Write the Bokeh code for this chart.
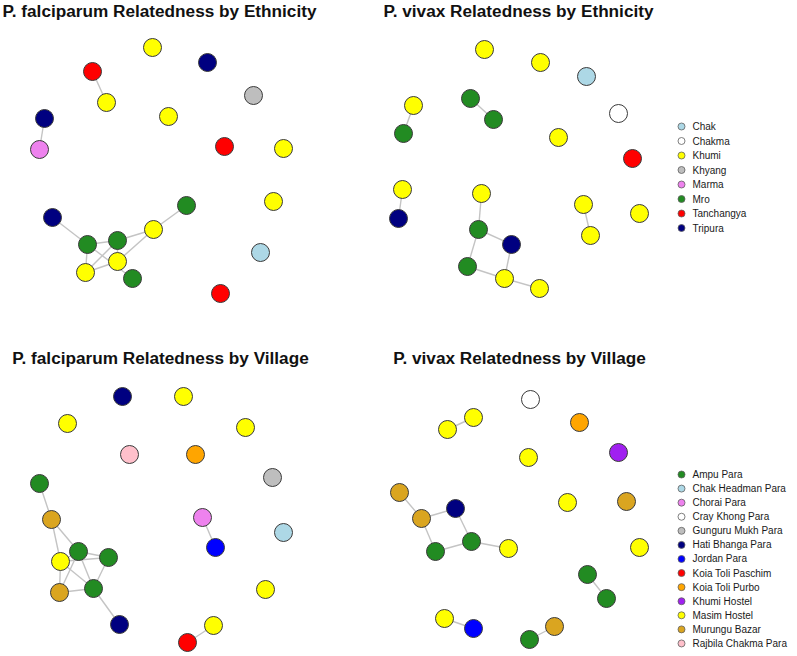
from bokeh.plotting import figure
from bokeh.models import Range1d, ColumnDataSource
from bokeh.layouts import column, row
from bokeh.embed import file_html
from bokeh.resources import INLINE
from bokeh.core.properties import value

# ---------------- categories & colours ----------------
ethnicities = ["Chak", "Chakma", "Khumi", "Khyang", "Marma", "Mro", "Tanchangya", "Tripura"]
ethnicity_colors = ["#ADD8E6", "#FFFFFF", "#FFFF00", "#BEBEBE", "#EE82EE", "#228B22", "#FF0000", "#000080"]

villages = ["Ampu Para", "Chak Headman Para", "Chorai Para", "Cray Khong Para", "Gunguru Mukh Para",
            "Hati Bhanga Para", "Jordan Para", "Koia Toli Paschim", "Koia Toli Purbo", "Khumi Hostel",
            "Masim Hostel", "Murungu Bazar", "Rajbila Chakma Para"]
village_colors = ["#228B22", "#ADD8E6", "#EE82EE", "#FFFFFF", "#BEBEBE", "#000080", "#0000FF",
                  "#FF0000", "#FFA500", "#A020F0", "#FFFF00", "#DAA520", "#FFC0CB"]

titles = ["P. falciparum Relatedness by Ethnicity", "P. vivax Relatedness by Ethnicity",
          "P. falciparum Relatedness by Village", "P. vivax Relatedness by Village"]

# ---------------- P. falciparum by ethnicity (layout coords) ----------------
pf_eth_x = [152, 207, 92, 253, 106, 168, 44, 39, 224, 283, 186, 273, 52, 153, 117, 87, 260, 117, 85, 132, 220]
pf_eth_y = [47, 62, 71, 95, 102, 116, 118, 149, 146, 148, 205, 201, 217, 229, 240, 244, 252, 261, 272, 278, 293]
pf_eth_group = ["Khumi", "Tripura", "Tanchangya", "Khyang", "Khumi", "Khumi", "Tripura", "Marma",
                "Tanchangya", "Khumi", "Mro", "Khumi", "Tripura", "Khumi", "Mro", "Mro", "Chak",
                "Khumi", "Khumi", "Mro", "Tanchangya"]
pf_eth_edges = [(2, 4), (6, 7), (12, 15), (15, 14), (14, 13), (13, 10), (13, 17), (14, 18),
                (15, 18), (18, 17), (14, 17), (15, 19)]

# ---------------- P. vivax by ethnicity ----------------
pv_eth_x = [154, 210, 256, 140, 83, 288, 163, 73, 228, 302, 72, 151, 253, 309, 68, 148, 260, 181, 137, 174, 209]
pv_eth_y = [49, 62, 76, 98, 105, 113, 119, 133, 137, 158, 189, 193, 204, 213, 218, 229, 235, 244, 266, 278, 288]
pv_eth_group = ["Khumi", "Khumi", "Chak", "Mro", "Khumi", "Chakma", "Mro", "Mro", "Khumi", "Tanchangya",
                "Khumi", "Khumi", "Khumi", "Khumi", "Tripura", "Mro", "Khumi", "Tripura", "Mro",
                "Khumi", "Khumi"]
pv_eth_edges = [(4, 7), (3, 6), (10, 14), (11, 15), (15, 17), (15, 18), (17, 19), (18, 19), (19, 20), (12, 16)]

# ---------------- P. falciparum by village ----------------
pf_vil_x = [122, 183, 67, 245, 129, 195, 272, 39, 51, 202, 283, 215, 78, 108, 60, 59, 93, 265, 119, 213, 187]
pf_vil_y = [68, 68, 95, 99, 126, 126, 149, 155, 191, 189, 204, 219, 223, 229, 233, 264, 260, 261, 296, 297, 314]
pf_vil_group = ["Hati Bhanga Para", "Masim Hostel", "Masim Hostel", "Masim Hostel", "Rajbila Chakma Para",
                "Koia Toli Purbo", "Gunguru Mukh Para", "Ampu Para", "Murungu Bazar", "Chorai Para",
                "Chak Headman Para", "Jordan Para", "Ampu Para", "Ampu Para", "Masim Hostel",
                "Murungu Bazar", "Ampu Para", "Masim Hostel", "Hati Bhanga Para", "Masim Hostel",
                "Koia Toli Paschim"]
pf_vil_edges = [(7, 8), (8, 14), (8, 12), (12, 13), (12, 14), (12, 15), (12, 16), (13, 16), (14, 13),
                (14, 15), (14, 16), (15, 16), (16, 18), (9, 11), (19, 20)]

# ---------------- P. vivax by village ----------------
pv_vil_x = [200, 143, 249, 117, 198, 288, 69, 237, 296, 125, 91, 141, 178, 105, 309, 257, 276, 114, 143, 224, 199]
pv_vil_y = [71, 89, 94, 101, 129, 124, 164, 174, 173, 180, 190, 213, 220, 223, 219, 246, 270, 290, 300, 298, 311]
pv_vil_group = ["Cray Khong Para", "Masim Hostel", "Koia Toli Purbo", "Masim Hostel", "Masim Hostel",
                "Khumi Hostel", "Murungu Bazar", "Masim Hostel", "Murungu Bazar", "Hati Bhanga Para",
                "Murungu Bazar", "Ampu Para", "Masim Hostel", "Ampu Para", "Masim Hostel", "Ampu Para",
                "Ampu Para", "Masim Hostel", "Jordan Para", "Murungu Bazar", "Ampu Para"]
pv_vil_edges = [(1, 3), (6, 10), (10, 9), (10, 13), (9, 11), (13, 11), (11, 12), (15, 16), (17, 18), (19, 20)]

FONT = "Liberation Sans"
NODE_SIZE = 18
EDGE_COLOR = "#C4C4C4"
NODE_LINE = "#3A3A3A"


def make_panel(width, height, xs, ys, groups, edges, cats, cols, title, title_x, title_y,
               legend=False, legend_x=0, legend_y0=0, legend_step=14.0):
    p = figure(width=width, height=height, x_range=Range1d(0, width), y_range=Range1d(height, 0),
               output_backend="svg", toolbar_location=None, min_border=0)
    p.axis.visible = False
    p.grid.visible = False
    p.outline_line_color = None
    p.background_fill_color = "white"
    p.border_fill_color = "white"

    cmap = dict(zip(cats, cols))
    esrc = ColumnDataSource(dict(
        x0=[xs[a] for a, b in edges], y0=[ys[a] for a, b in edges],
        x1=[xs[b] for a, b in edges], y1=[ys[b] for a, b in edges]))
    p.segment("x0", "y0", "x1", "y1", source=esrc, line_color=EDGE_COLOR, line_width=1.4)

    nsrc = ColumnDataSource(dict(x=xs, y=ys, c=[cmap[g] for g in groups]))
    p.scatter("x", "y", source=nsrc, size=NODE_SIZE, fill_color="c", line_color=NODE_LINE, line_width=1)

    tsrc = ColumnDataSource(dict(x=[title_x], y=[title_y], t=[title]))
    p.text("x", "y", text="t", source=tsrc, text_font=value(FONT), text_font_style="bold",
           text_font_size="17.2px", text_align="center", text_baseline="top", text_color="#111111")

    if legend:
        ly = [legend_y0 + i * legend_step for i in range(len(cats))]
        lsrc = ColumnDataSource(dict(x=[legend_x] * len(cats), tx=[legend_x + 11] * len(cats),
                                     y=ly, c=cols, t=cats))
        p.scatter("x", "y", source=lsrc, size=7, fill_color="c", line_color="#606060", line_width=0.8)
        p.text("tx", "y", text="t", source=lsrc, text_font=value(FONT), text_font_size="10px",
               text_baseline="middle", text_align="left", text_color="#1a1a1a")
    return p


p1 = make_panel(330, 328, pf_eth_x, pf_eth_y, pf_eth_group, pf_eth_edges,
                ethnicities, ethnicity_colors, titles[0], 159, 0)
p2 = make_panel(467, 328, pv_eth_x, pv_eth_y, pv_eth_group, pv_eth_edges,
                ethnicities, ethnicity_colors, titles[1], 188, 0,
                legend=True, legend_x=351, legend_y0=126, legend_step=14.5)
p3 = make_panel(330, 328, pf_vil_x, pf_vil_y, pf_vil_group, pf_vil_edges,
                villages, village_colors, titles[2], 160, 19)
p4 = make_panel(467, 328, pv_vil_x, pv_vil_y, pv_vil_group, pv_vil_edges,
                villages, village_colors, titles[3], 189, 19,
                legend=True, legend_x=351, legend_y0=146, legend_step=14.08)

layout = column(row(p1, p2), row(p3, p4))
open("out.html", "w").write(file_html(layout, INLINE))
